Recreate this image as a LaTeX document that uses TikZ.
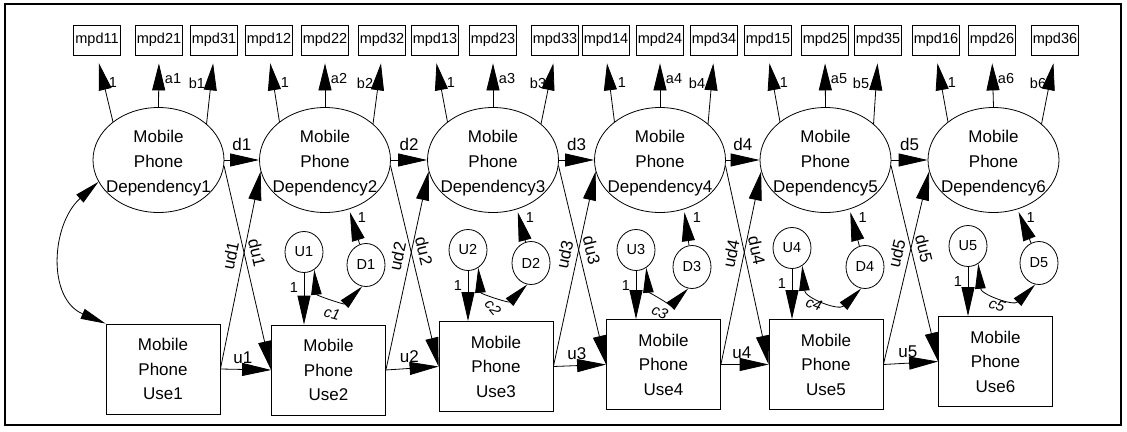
\documentclass[tikz,border=0pt]{standalone}
\usepackage{fontspec}
\setmainfont{Liberation Sans}
\usetikzlibrary{arrows.meta,shapes.geometric}
\newcommand\fsz[2]{\fontsize{#1}{#2}\selectfont}
\begin{document}
\begin{tikzpicture}[x=1pt,y=-1pt,
  lat/.style={ellipse,draw,line width=0.8pt,minimum width=131pt,minimum height=105pt,inner sep=0pt},
  lattext/.style={align=center,inner sep=0pt,font=\fsz{17}{25}},
  obs/.style={rectangle,draw,line width=0.8pt,minimum width=114pt,minimum height=90pt,inner sep=0pt,align=center,font=\fsz{17}{24.5}},
  ind/.style={rectangle,draw,line width=0.8pt,minimum width=47pt,minimum height=30pt,inner sep=0pt,font=\fsz{14.5}{17}},
  err/.style={ellipse,draw,line width=0.8pt,minimum width=38pt,minimum height=41pt,inner sep=0pt,font=\fsz{14.5}{17}},
  arr/.style={line width=0.8pt,-{Triangle[length=29pt 0,width=13pt 0]}},
  load/.style={line width=0.8pt,shorten >=8pt,-{Triangle[length=27pt 0,width=13pt 0]}},
  cov/.style={line width=0.8pt,{Triangle[length=25pt 0,width=10.5pt 0]}-{Triangle[length=25pt 0,width=10.5pt 0]}},
  lbl/.style={font=\fsz{14.5}{17},inner sep=0pt},
  plbl/.style={font=\fsz{17}{20},inner sep=1pt},
  clbl/.style={font=\fsz{15}{17}\itshape,inner sep=0pt},
]
\useasboundingbox (0,0) rectangle (1127,431);
\draw[line width=1.5pt] (5,4) rectangle (1121,425);

% latent factors with their three indicators each
\foreach \i/\ex/\ma/\mb/\mc in {1/158.5/97/159/214, 2/325/269/325/382, 3/493/435/493/555,
                                  4/660/606/660/714, 5/825.5/768/825/878, 6/993.5/936/992/1055} {
  \node[lat] (E\i) at (\ex,160) {};
  \node[lattext] at (\ex,163.5) {Mobile\\Phone\\Dependency\i};
  \node[ind] (ma\i) at (\ma,40) {mpd1\i};
  \node[ind] (mb\i) at (\mb,40) {mpd2\i};
  \node[ind] (mc\i) at (\mc,40) {mpd3\i};
  \draw[load] (E\i.140) -- (ma\i.south);
  \draw[load] (E\i.90) -- (mb\i.south);
  \draw[load] (E\i.37) -- (mc\i.south);
  \node[lbl] at ([shift={(16,27)}]ma\i.south) {1};
  \node[lbl] at ([shift={(14,23)}]mb\i.south) {a\i};
  \node[lbl] at ([shift={(-17,28)}]mc\i.south) {b\i};
}

% observed usage boxes
\foreach \i/\x/\y in {1/163/369, 2/328.5/370, 3/496/366.5, 4/663.5/364.5, 5/826/364.5, 6/995.5/361.5} {
  \node[obs] (Use\i) at (\x,\y) {Mobile\\Phone\\Use\i};
}

% residual terms
\foreach \i/\ux/\uy/\dx/\dy in {1/304/252/366/265, 2/468/250/531/263, 3/636/250/692/267,
                                4/792/248/865/267, 5/968/246/1039/263} {
  \node[err] (U\i) at (\ux,\uy) {U\i};
  \node[err,minimum height=43pt] (D\i) at (\dx,\dy) {D\i};
}

% structural paths between waves
\foreach \i/\cx/\cy/\rot in {1/332/314/-15, 2/493/307/-50, 3/660/312/-25, 4/814/304/-20, 5/997/305/-20} {
  \pgfmathtruncatemacro\j{\i+1}
  \draw[arr] (E\i.east) -- node[plbl,above=8pt] {d\i} (E\j.west);
  \draw[arr] (Use\i.east) -- node[plbl,above=4pt,xshift=-3pt] {u\i} (Use\j.west);
  \draw[arr] (Use\i.east) -- node[plbl,pos=0.56,sloped,above=5pt] {ud\i} (E\j.190);
  \draw[arr] (E\i.-5) -- node[plbl,pos=0.44,sloped,above=5pt] {du\i} (Use\j.west);
  \draw[arr] (U\i.south) -- (U\i.south |- Use\j.north);
  \node[lbl] at ([shift={(-10,15)}]U\i.south) {1};
  \draw[arr,shorten >=3pt] (D\i) -- (E\j.-64);
  \node[lbl] at ([shift={(13,8)}]E\j.-64) {1};
  \draw[cov] (U\i.-60) to[out=-85,in=225,looseness=1.3] (D\i.-100);
  \node[clbl,rotate=\rot] at (\cx,\cy) {c\i};
}

% covariance between first-wave dependency and use
\draw[cov] (E1.200) to[out=222,in=157,looseness=1.15] (Use1.north west);
\end{tikzpicture}
\end{document}
